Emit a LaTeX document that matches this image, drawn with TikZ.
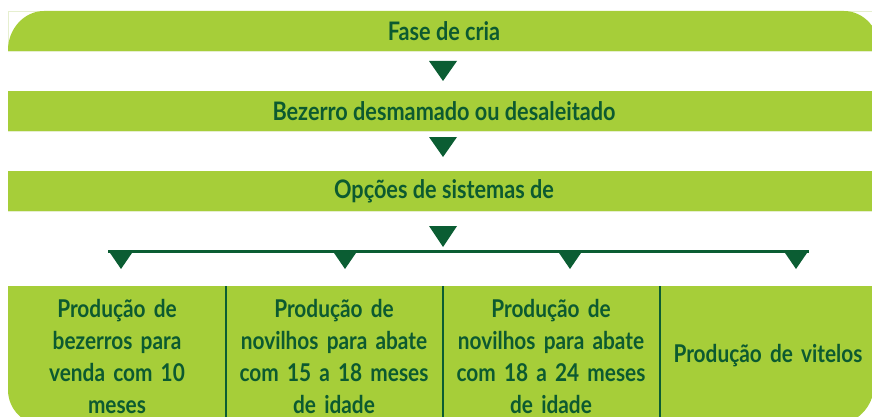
\documentclass[tikz,border=0pt]{standalone}
\usepackage{fontspec}
\setmainfont[FakeStretch=0.85]{Lato}
\definecolor{barg}{HTML}{A6CE39}
\definecolor{dkg}{HTML}{0B5D33}
\definecolor{txtg}{HTML}{0C5A30}
\definecolor{pale}{HTML}{E6EFCF}
\tikzset{
  bartext/.style={text=txtg,font=\fontsize{25.5}{32}\selectfont\bfseries,inner sep=0pt,anchor=center},
  coltext/.style={text=txtg,font=\fontsize{24.5}{32}\selectfont\bfseries,inner sep=0pt,anchor=center,align=center,text width=210pt},
  tri/.style={fill=dkg},
  divline/.style={draw=dkg,line width=1.2pt},
}
\begin{document}
\begin{tikzpicture}[x=1pt,y=-1pt]
\useasboundingbox (0,0) rectangle (872,417);
\begin{scope}
\clip (0,0) rectangle (872,417);
% faint outlines
\draw[pale,line width=0.8pt] (8,11) rectangle (880,51);
\draw[pale,line width=0.8pt] (8,91) rectangle (880,131);
\draw[pale,line width=0.8pt] (8,171) rectangle (880,211);
% bar 1 with rounded top corners
\fill[barg] (8,51) -- (8,50) .. controls (8,28.9) and (24.1,11) .. (44,11)
  -- (844,11) .. controls (863.9,11) and (880,28.9) .. (880,51) -- cycle;
\fill[barg] (8,91) rectangle (880,131);
\fill[barg] (8,171) rectangle (880,211);
% bottom box
\fill[barg] (8,286) -- (874,286) -- (874,385) .. controls (874,407) and (856,425) .. (834,425)
  -- (43,425) .. controls (23.7,425) and (8,409.3) .. (8,390) -- cycle;
\draw[divline] (226,286) -- (226,417);
\draw[divline] (443,286) -- (443,417);
\draw[divline] (660,286) -- (660,417);
\end{scope}
% texts
\node[bartext] (b1) at (444,31) {Fase de cria};
\node[bartext] (b2) at (444,111) {Bezerro desmamado ou desaleitado};
\node[bartext] (b3) at (444,191) {Opções de sistemas de};
\node[coltext] (c1) at (117,356) {Produção de\\bezerros para\\venda com 10\\meses};
\node[coltext] (c2) at (334,356) {Produção de\\novilhos para abate\\com 15 a 18 meses\\de idade};
\node[coltext] (c3) at (551,356) {Produção de\\novilhos para abate\\com 18 a 24 meses\\de idade};
\node[coltext] (c4) at (768,356) {Produção de vitelos};
% big triangles
\fill[tri] (429,61) -- (457,61) -- (443,81) -- cycle;
\fill[tri] (429,137) -- (457,137) -- (443,157) -- cycle;
\fill[tri] (429,226) -- (457,226) -- (443,247) -- cycle;
% distribution line
\coordinate (l0) at (108,251);
\coordinate (l1) at (809,251);
\draw[dkg,line width=3pt] (l0) -- (l1);
\foreach \cx in {121,345,570,796}{
  \fill[tri] (\cx-13,250) -- (\cx+13,250) -- (\cx,269) -- cycle;
}
\end{tikzpicture}
\end{document}
